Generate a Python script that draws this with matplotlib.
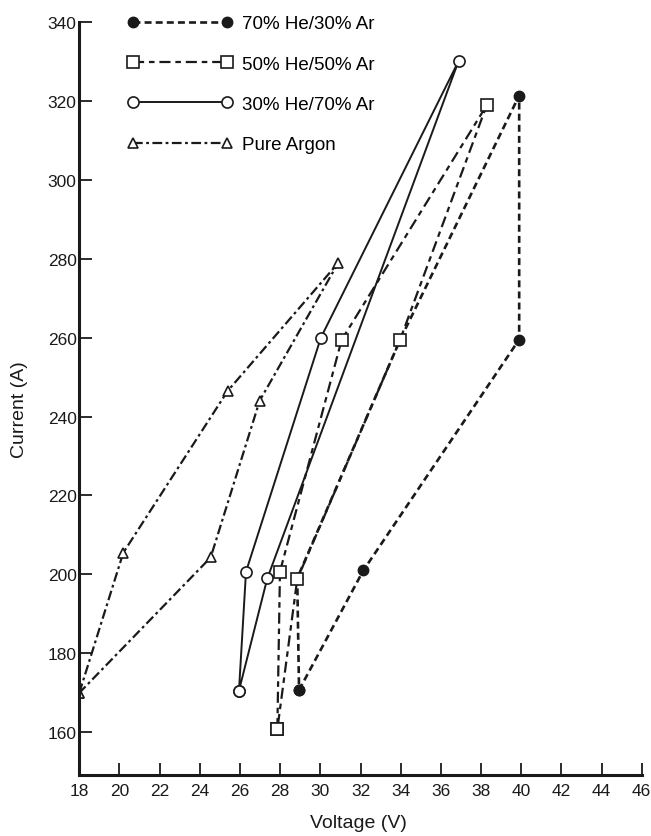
import matplotlib
matplotlib.use("Agg")
import matplotlib.pyplot as plt

plt.rcParams['font.family'] = ['Liberation Sans', 'DejaVu Sans']
plt.rcParams['lines.scale_dashes'] = False

# Data (voltage V, current A) - loops traced in measurement order
he70_v = [28.94, 32.14, 39.9, 39.9, 33.96, 28.85, 28.94]
he70_i = [170.7, 201.0, 259.5, 321.3, 259.3, 199.0, 170.7]

he50_v = [27.86, 27.99, 31.06, 38.28, 33.96, 28.85, 27.86]
he50_i = [160.8, 200.7, 259.4, 318.8, 259.3, 198.8, 160.8]

he30_v = [25.95, 26.30, 30.03, 36.88, 27.36, 25.95]
he30_i = [170.6, 200.7, 260.0, 330.0, 199.0, 170.6]

ar_v = [18.0, 20.19, 25.39, 30.89, 26.98, 24.54, 18.0]
ar_i = [170.0, 205.5, 246.5, 278.9, 244.0, 204.3, 170.0]

labels = ["70% He/30% Ar", "50% He/50% Ar", "30% He/70% Ar", "Pure Argon"]
x_ticks = list(range(18, 47, 2))
y_ticks = list(range(160, 341, 20))

fig = plt.figure(figsize=(6.51, 8.37), dpi=100)
ax = fig.add_axes([79.3/651, 1-776/837, (641.7-79.3)/651, (776-22.7)/837])

ink = '#1a1a1a'
l1, = ax.plot(he70_v, he70_i, color=ink, lw=1.9, dashes=(5, 3),
              marker='o', ms=7.5, mfc=ink, mec=ink, label=labels[0])
l2, = ax.plot(he50_v, he50_i, color=ink, lw=1.6, dashes=(8, 3.5, 4, 3.5),
              marker='s', ms=8, mfc='white', mec=ink, mew=1.2, label=labels[1])
l3, = ax.plot(he30_v, he30_i, color=ink, lw=1.4, ls='-',
              marker='o', ms=8, mfc='white', mec=ink, mew=1.2, label=labels[2])
l4, = ax.plot(ar_v, ar_i, color=ink, lw=1.6, dashes=(7, 2.5, 2, 2.5),
              marker='^', ms=7, mfc='white', mec=ink, mew=1.2, label=labels[3])

ax.set_xlim(18, 46)
ax.set_ylim(149.2, 340)
ax.set_xticks(x_ticks)
ax.set_yticks(y_ticks)
ax.set_xticklabels([str(t) for t in x_ticks])
ax.set_yticklabels([str(t) for t in y_ticks])

for s in ['top', 'right']:
    ax.spines[s].set_visible(False)
for s in ['left', 'bottom']:
    ax.spines[s].set_linewidth(2.2)
    ax.spines[s].set_color(ink)

ax.tick_params(axis='x', direction='in', length=9, width=1.3, pad=6,
               labelsize=12.5, colors=ink)
ax.tick_params(axis='y', direction='in', length=9, width=1.3, pad=2,
               labelsize=12.5, colors=ink)

fig.text(20/651, 1-410/837, "Current (A)", rotation=90, ha='center', va='center',
         fontsize=14, color=ink)
fig.text(358/651, 1-824/837, "Voltage (V)", ha='center', va='center',
         fontsize=14, color=ink)

fig.legend(handles=[l1, l2, l3, l4], loc='upper left',
           bbox_to_anchor=(127.4/651, 1-16/837), frameon=False, numpoints=2,
           handlelength=5.61, handletextpad=0.5, labelspacing=1.24,
           borderpad=0, borderaxespad=0, fontsize=13.5)

fig.savefig("out.png", dpi=100, facecolor='white')
